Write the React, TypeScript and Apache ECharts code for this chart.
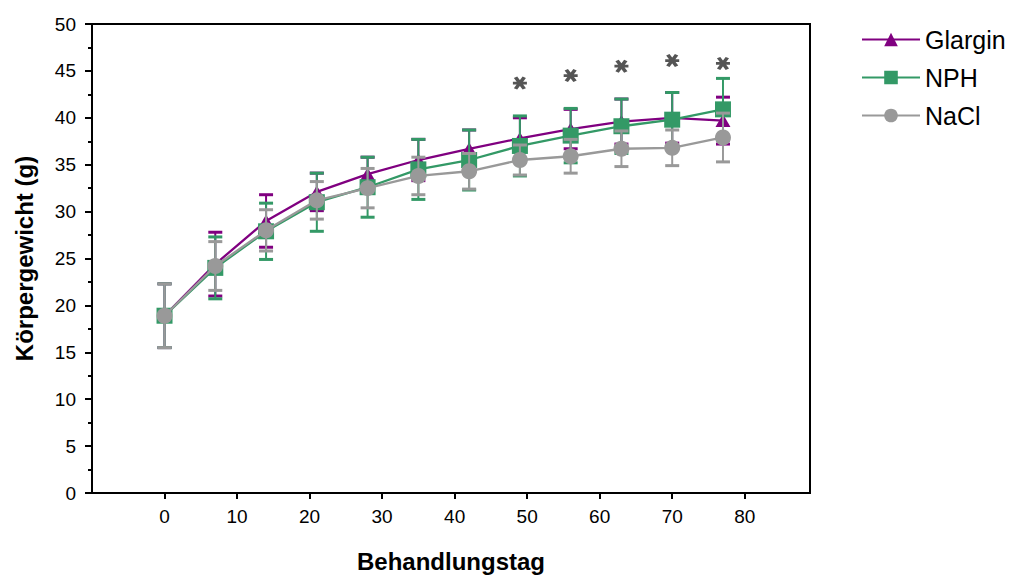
import React, { useEffect, useRef } from "react";
import * as echarts from "echarts";

const days = [0, 7, 14, 21, 28, 35, 42, 49, 56, 63, 70, 77];
const glarginMean = [18.9, 24.4, 29.0, 32.1, 34.0, 35.5, 36.7, 37.8, 38.8, 39.6, 40.0, 39.7];
const glarginSd = [3.4, 3.4, 2.8, 2.0, 1.8, 2.2, 2.0, 2.2, 2.1, 2.4, 2.7, 2.5];
const nphMean = [18.9, 24.0, 27.9, 31.0, 32.6, 34.5, 35.5, 37.0, 38.1, 39.1, 39.8, 40.9];
const nphSd = [3.4, 3.3, 3.0, 3.1, 3.2, 3.2, 3.2, 3.2, 2.9, 2.9, 2.9, 3.3];
const naclMean = [18.9, 24.2, 28.0, 31.2, 32.5, 33.8, 34.3, 35.5, 35.9, 36.7, 36.8, 37.9];
const naclSd = [3.4, 2.6, 2.2, 2.0, 2.1, 2.0, 1.9, 1.6, 1.8, 1.9, 1.9, 2.6];
const sigDays = [49, 56, 63, 70, 77];
const sigValues = [43.7, 44.5, 45.5, 46.1, 45.8];
const xTickValues = [0, 10, 20, 30, 40, 50, 60, 70, 80];
const seriesNames = ["Glargin", "NPH", "NaCl"];

const COLORS = ["#800080", "#339966", "#999999"];
const FONT = "'Liberation Sans', Arial, Helvetica, sans-serif";
const ASTERISK =
  "path://M2,7.9L18,7.9L18,12.1L2,12.1Z M6.905,0.24L16.905,17.56L13.095,19.76L3.095,2.44Z M16.905,2.44L6.905,19.76L3.095,17.56L13.095,0.24Z";

function errSeries(name: string, means: number[], sds: number[], color: string, z: number) {
  return {
    name: name + "-err",
    type: "custom",
    z,
    data: days.map((d, i) => [d, means[i] - sds[i], means[i] + sds[i]]),
    encode: { x: 0, y: [1, 2] },
    renderItem: (params: any, api: any) => {
      const x = api.value(0);
      const top = api.coord([x, api.value(2)]);
      const bot = api.coord([x, api.value(1)]);
      const hw = 7;
      return {
        type: "group",
        children: [
          { type: "line", shape: { x1: top[0], y1: top[1], x2: bot[0], y2: bot[1] }, style: { stroke: color, lineWidth: 2 } },
          { type: "line", shape: { x1: top[0] - hw, y1: top[1], x2: top[0] + hw, y2: top[1] }, style: { stroke: color, lineWidth: 3 } },
          { type: "line", shape: { x1: bot[0] - hw, y1: bot[1], x2: bot[0] + hw, y2: bot[1] }, style: { stroke: color, lineWidth: 3 } },
        ],
      };
    },
  };
}

function lineSeries(name: string, means: number[], color: string, symbol: string, size: any, z: number) {
  return {
    name,
    type: "line",
    z,
    data: days.map((d, i) => [d, means[i]]),
    symbol,
    symbolSize: size,
    showAllSymbol: true,
    lineStyle: { color, width: 2.3 },
    itemStyle: { color, opacity: 1 },
  };
}

export default function App() {
  const ref = useRef<HTMLDivElement>(null);
  useEffect(() => {
    if (!ref.current) return;
    const chart = echarts.init(ref.current, null, { renderer: "svg" });
    chart.setOption({
      animation: false,
      backgroundColor: "#fff",
      textStyle: { fontFamily: FONT },
      grid: {
        left: 92,
        top: 24,
        right: 201,
        bottom: 86,
        show: true,
        borderColor: "#000",
        borderWidth: 2,
        backgroundColor: "transparent",
      },
      legend: {
        data: seriesNames,
        orient: "vertical",
        left: 856,
        top: 21,
        itemWidth: 58,
        itemHeight: 17,
        itemGap: 11,
        textStyle: { fontSize: 25, color: "#000", fontFamily: FONT, lineHeight: 27 },
      },
      xAxis: {
        type: "value",
        min: -10,
        max: 89,
        interval: 10,
        name: "Behandlungstag",
        nameLocation: "middle",
        nameGap: 56,
        nameTextStyle: { fontSize: 24, fontWeight: "bold", color: "#000", fontFamily: FONT },
        axisLine: { show: true, onZero: false, lineStyle: { color: "#000", width: 2 } },
        axisTick: { show: true, inside: false, length: 6, lineStyle: { color: "#000", width: 2 }, customValues: xTickValues },
        axisLabel: { fontSize: 19, color: "#000", margin: 14, fontFamily: FONT, customValues: xTickValues },
        splitLine: { show: false },
      },
      yAxis: {
        type: "value",
        min: 0,
        max: 50,
        interval: 5,
        name: "Körpergewicht (g)",
        nameLocation: "middle",
        nameGap: 56,
        nameRotate: 90,
        nameTextStyle: { fontSize: 24, fontWeight: "bold", color: "#000", fontFamily: FONT },
        axisLine: { show: true, onZero: false, lineStyle: { color: "#000", width: 2 } },
        axisTick: { show: true, inside: false, length: 7, lineStyle: { color: "#000", width: 2 } },
        minorTick: { show: true, splitNumber: 2, length: 4, lineStyle: { color: "#000", width: 2 } },
        axisLabel: { fontSize: 19, color: "#000", margin: 16, fontFamily: FONT },
        splitLine: { show: false },
        minorSplitLine: { show: false },
      },
      series: [
        errSeries("Glargin", glarginMean, glarginSd, COLORS[0], 1),
        lineSeries("Glargin", glarginMean, COLORS[0], "triangle", [15, 13], 2),
        errSeries("NPH", nphMean, nphSd, COLORS[1], 3),
        lineSeries("NPH", nphMean, COLORS[1], "rect", 16, 4),
        errSeries("NaCl", naclMean, naclSd, COLORS[2], 5),
        lineSeries("NaCl", naclMean, COLORS[2], "circle", 16, 6),
        {
          name: "sig",
          type: "scatter",
          z: 7,
          data: sigDays.map((d, i) => [d, sigValues[i]]),
          symbol: ASTERISK,
          symbolSize: [14, 13],
          itemStyle: { color: "#2b2b2b" },
        },
      ],
    });
    return () => chart.dispose();
  }, []);
  return (
    <div
      ref={ref}
      style={{ position: "fixed", left: 0, top: 0, width: 1011, height: 579, background: "#fff" }}
    />
  );
}
